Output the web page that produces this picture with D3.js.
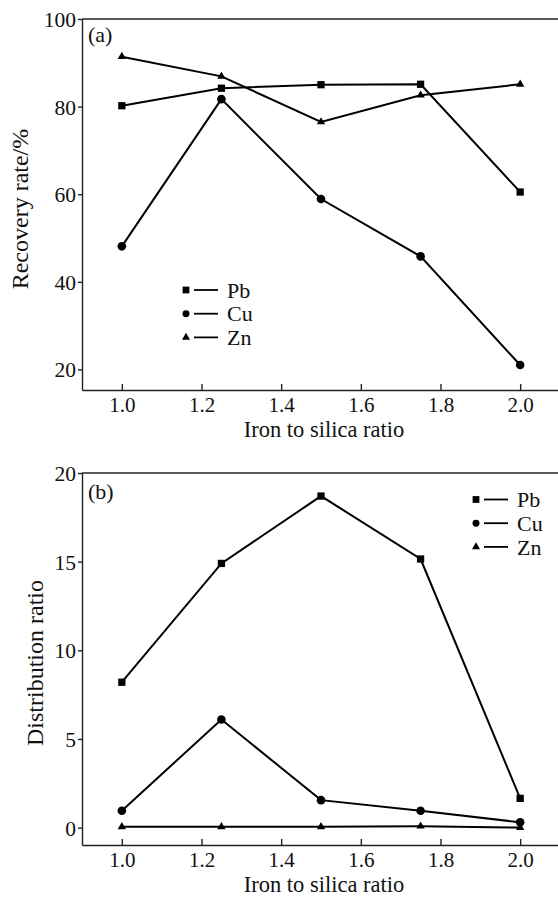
<!DOCTYPE html>
<html>
<head>
<meta charset="utf-8">
<title>Recovery rate and distribution ratio</title>
<script src="https://d3js.org/d3.v7.min.js"></script>
<style>
  body { margin: 0; background: #fff; }
  svg text { font-family: "Liberation Serif", "DejaVu Serif", serif; fill: #111; }
  .axis path, .axis line { stroke: #222; stroke-width: 1.4; }
</style>
</head>
<body>
<svg id="chart" width="558" height="897"></svg>
<script>
// iron to silica ratio (x values)
var ratios = [1.0, 1.25, 1.5, 1.75, 2.0];

// (a) recovery rate, %
var recPb = [80.2, 84.2, 85.0, 85.1, 60.5];
var recCu = [48.1, 81.7, 58.9, 45.8, 21.0];
var recZn = [91.4, 86.9, 76.5, 82.6, 85.1];

// (b) distribution ratio
var distPb = [8.2, 14.9, 18.7, 15.15, 1.65];
var distCu = [0.95, 6.1, 1.55, 0.95, 0.3];
var distZn = [0.05, 0.05, 0.05, 0.08, 0.0];

var xTicks = [1.0, 1.2, 1.4, 1.6, 1.8, 2.0];
var recTicks = [20, 40, 60, 80, 100];
var distTicks = [0, 5, 10, 15, 20];
var seriesNames = ["Pb", "Cu", "Zn"];
var symbols = [d3.symbolSquare, d3.symbolCircle, d3.symbolTriangle];
var symSizes = [53, 58, 30];     // markers on the lines
var legSizes = [46, 38, 28];     // markers in the legend

var svg = d3.select("#chart");
var x = d3.scaleLinear().domain([0.9, 2.1]).range([82, 560]);

function drawPanel(opt) {
  var y = d3.scaleLinear().domain(opt.domain).range([opt.bottom, opt.top]);
  var g = svg.append("g");

  // frame: top line (right side is cut by the picture edge)
  g.append("line")
    .attr("x1", x.range()[0]).attr("x2", x.range()[1])
    .attr("y1", opt.top).attr("y2", opt.top)
    .attr("stroke", "#222").attr("stroke-width", 1.4);

  var xa = g.append("g").attr("class", "axis")
    .attr("transform", "translate(0," + opt.bottom + ")")
    .call(d3.axisBottom(x).tickValues(xTicks).tickFormat(d3.format(".1f"))
      .tickSizeInner(-6).tickSizeOuter(0).tickPadding(7));
  xa.selectAll("text").style("font-size", "21px");

  var ya = g.append("g").attr("class", "axis")
    .attr("transform", "translate(" + x.range()[0] + ",0)")
    .call(d3.axisLeft(y).tickValues(opt.ticks).tickSizeInner(4).tickSizeOuter(0).tickPadding(2));
  ya.selectAll("text").style("font-size", "21.5px").attr("dy", "0.35em");

  // axis titles
  g.append("text")
    .attr("x", 324)
    .attr("y", opt.bottom + 47)
    .attr("text-anchor", "middle")
    .style("font-size", "22.5px")
    .text("Iron to silica ratio");

  g.append("text")
    .attr("transform", "translate(" + opt.ylabX + "," + opt.ylabY + ") rotate(-90)")
    .attr("text-anchor", "middle")
    .style("font-size", "24px")
    .text(opt.ylabel);

  g.append("text")
    .attr("x", 88).attr("y", opt.tagY)
    .style("font-size", "22px")
    .text(opt.tag);

  var line = d3.line()
    .x(function(d, i) { return x(ratios[i]); })
    .y(function(d) { return y(d); });

  opt.series.forEach(function(vals, k) {
    g.append("path")
      .datum(vals)
      .attr("fill", "none")
      .attr("stroke", "#000")
      .attr("stroke-width", 2)
      .attr("d", line);
    g.selectAll(null)
      .data(vals)
      .enter().append("path")
      .attr("transform", function(d, i) { return "translate(" + x(ratios[i]) + "," + y(d) + ")"; })
      .attr("d", d3.symbol().type(symbols[k]).size(symSizes[k]))
      .attr("fill", "#000");
  });

  // legend
  var leg = g.append("g").attr("transform", "translate(" + opt.legX + "," + opt.legY + ")");
  seriesNames.forEach(function(name, k) {
    var row = leg.append("g").attr("transform", "translate(0," + (k * 23.7) + ")");
    row.append("path")
      .attr("d", d3.symbol().type(symbols[k]).size(legSizes[k]))
      .attr("fill", "#000");
    row.append("line")
      .attr("x1", 8).attr("x2", 32).attr("y1", 0).attr("y2", 0)
      .attr("stroke", "#000").attr("stroke-width", 1.8);
    row.append("text")
      .attr("x", 41).attr("y", 0).attr("dy", "0.35em")
      .style("font-size", "22px")
      .text(name);
  });
}

drawPanel({
  top: 19, bottom: 390, domain: [15.3, 100], ticks: recTicks,
  series: [recPb, recCu, recZn], ylabel: "Recovery rate/%", ylabX: 28, ylabY: 209,
  tag: "(a)", tagY: 42, legX: 186, legY: 290
});

drawPanel({
  top: 473, bottom: 845, domain: [-0.98, 20], ticks: distTicks,
  series: [distPb, distCu, distZn], ylabel: "Distribution ratio", ylabX: 43, ylabY: 663,
  tag: "(b)", tagY: 499, legX: 476, legY: 499.5
});
</script>
</body>
</html>
